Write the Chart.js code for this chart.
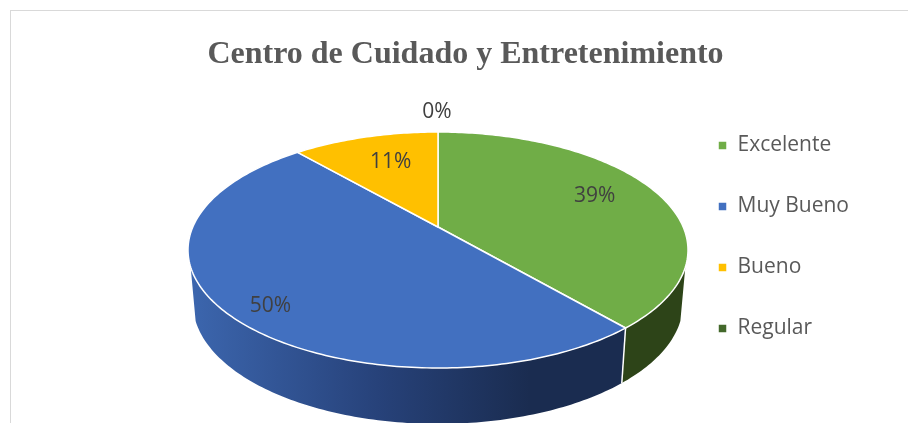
<!DOCTYPE html>
<html><head><meta charset="utf-8">
<script src="https://cdn.jsdelivr.net/npm/chart.js@4/dist/chart.umd.js"></script>
<style>
html,body{margin:0;padding:0;background:#fff;overflow:hidden;width:908px;height:423px}
#frame{position:absolute;left:10px;top:10px;width:1000px;height:500px;border:1px solid #d9d9d9;box-sizing:border-box}
#wrap{position:absolute;left:0;top:0;width:908px;height:423px}
</style></head><body>
<div id="frame"></div>
<div id="wrap"><canvas id="c"></canvas></div>
<script>
const titleText = 'Centro de Cuidado y Entretenimiento';
const categories = ['Excelente','Muy Bueno','Bueno','Regular'];
const values = [38.7,49.9,11.4,0];
const topColors = ['#70AD47','#4270C0','#FFC000','#43682B'];
const wallColors = ['#2D4418','#1A2C50','#7F6000','#22341A'];
const labelNudges = [[3,-5],[-25,22],[6,1],[-1,-45]];

// Perspective of the pie's disc, top face and base
const view = {cx:438,k:245.2,a:69.27,b:227,c:-0.1949,midY:250,baseY:303.5,baseSY:1.02,baseScale:0.98,labelR:0.7,wallFrom:0.3314};

function project(ang,r=1,base=false){
  const u=r*Math.cos(ang),v=r*Math.sin(ang),d=1+view.c*v;
  const s=base?view.baseScale:1;
  const y=(view.a*v+view.b)/d;
  return {x:view.cx+s*view.k*u/d,y:base?view.baseY+(y-view.midY)*view.baseSY:y};
}
function projectedArc(ctx){
  const {startAngle:s,endAngle:e}=this.getProps(['startAngle','endAngle']);
  if(e-s<1e-4)return;
  ctx.save();
  ctx.beginPath();
  const p0=project(0,0);ctx.moveTo(p0.x,p0.y);
  const n=Math.max(8,Math.ceil((e-s)*60));
  for(let i=0;i<=n;i++){const p=project(s+(e-s)*i/n);ctx.lineTo(p.x,p.y);}
  ctx.closePath();
  ctx.fillStyle=this.options.backgroundColor;ctx.fill();
  ctx.strokeStyle=this.options.borderColor;ctx.lineWidth=this.options.borderWidth;ctx.lineJoin='round';ctx.stroke();
  ctx.restore();
}
const pie3d={
  id:'pie3d',
  beforeDatasetsDraw(chart){
    const ctx=chart.ctx,meta=chart.getDatasetMeta(0);
    const lo=Math.asin(view.wallFrom),hi=Math.PI-lo;
    meta.data.forEach((arc,i)=>{
      arc.draw=projectedArc;
      const s=Math.max(arc.startAngle,lo),e=Math.min(arc.endAngle,hi);
      if(e<=s)return;
      ctx.save();
      ctx.beginPath();
      const n=Math.ceil((e-s)*60);
      for(let j=0;j<=n;j++){const p=project(s+(e-s)*j/n);j?ctx.lineTo(p.x,p.y):ctx.moveTo(p.x,p.y);}
      for(let j=n;j>=0;j--){const p=project(s+(e-s)*j/n,1,true);ctx.lineTo(p.x,p.y);}
      ctx.closePath();
      if(i===1){
        const g=ctx.createLinearGradient(190,0,530,0);
        g.addColorStop(0,'#3C66AE');g.addColorStop(0.55,'#27427A');g.addColorStop(1,wallColors[1]);
        ctx.fillStyle=g;
      } else ctx.fillStyle=wallColors[i];
      ctx.fill();
      ctx.restore();
    });
    // seam between walls
    meta.data.forEach(arc=>{
      const a=arc.endAngle;
      if(a>lo&&a<hi&&arc.endAngle>arc.startAngle){
        const t=project(a),b=project(a,1,true);
        ctx.save();ctx.strokeStyle='#fff';ctx.lineWidth=1.5;ctx.beginPath();ctx.moveTo(t.x,t.y);ctx.lineTo(b.x,b.y);ctx.stroke();ctx.restore();
      }
    });
  },
  afterDatasetsDraw(chart){
    const ctx=chart.ctx,meta=chart.getDatasetMeta(0);
    ctx.save();
    ctx.font='21px "Open Sans"';ctx.fillStyle='#404040';ctx.textAlign='center';ctx.textBaseline='middle';
    meta.data.forEach((arc,i)=>{
      const p=project((arc.startAngle+arc.endAngle)/2,view.labelR);
      ctx.fillText(Math.round(values[i])+'%',p.x+labelNudges[i][0],p.y+labelNudges[i][1]);
    });
    ctx.restore();
  }
};
Chart.defaults.animation=false;
new Chart(document.getElementById('c'),{
  type:'pie',
  data:{labels:categories,datasets:[{data:values,backgroundColor:topColors,borderColor:'#fff',borderWidth:1.5}]},
  plugins:[pie3d],
  options:{
    responsive:true,maintainAspectRatio:false,animation:false,
    layout:{padding:{left:72,right:49,top:36,bottom:-15}},
    plugins:{
      tooltip:{enabled:false},
      title:{display:true,text:titleText,color:'#595959',font:{family:'"Liberation Serif"',size:32,weight:'bold'},padding:{top:0,bottom:47}},
      legend:{position:'right',labels:{boxWidth:9,boxHeight:9,padding:40,color:'#595959',font:{family:'"Open Sans"',size:21}}}
    }
  }
});
</script>
</body></html>
